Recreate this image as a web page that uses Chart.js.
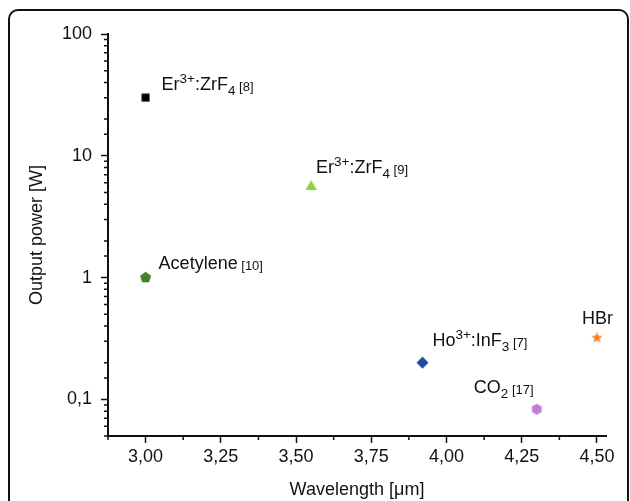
<!DOCTYPE html>
<html>
<head>
<meta charset="utf-8">
<script src="https://cdn.jsdelivr.net/npm/chart.js@4"></script>
<style>
  html, body { margin: 0; padding: 0; background: #fff; }
  #wrap { position: relative; width: 630px; height: 501px; overflow: hidden; }
  #frame {
    position: absolute; left: 8px; top: 9px; width: 621px; height: 540px;
    box-sizing: border-box; border: 2.5px solid #111; border-radius: 10px;
  }
  canvas { position: absolute; left: 0; top: 0; }
</style>
</head>
<body>
<div id="wrap">
  <div id="frame"></div>
  <canvas id="chart" width="630" height="501"></canvas>
</div>
<script>
// Data
const wavelengths = [3.00, 3.55, 3.00, 3.92, 4.30, 4.50];
const powers = [30, 5.7, 1.0, 0.2, 0.083, 0.32];
const markerShapes = ['square', 'triangle', 'pentagon', 'diamond', 'hexagon', 'star'];
const markerColors = ['#000000', '#8fd13f', '#3f8422', '#1f4aa0', '#c27bd6', '#ff7f1e'];
// label text pieces: [text, kind]
const pointLabels = [
    [['Er', 'n'], ['3+', 'sup'], [':ZrF', 'n'], ['4', 'sub'], [' [8]', 'ref']],
    [['Er', 'n'], ['3+', 'sup'], [':ZrF', 'n'], ['4', 'sub'], [' [9]', 'ref']],
    [['Acetylene', 'n'], [' [10]', 'ref']],
    [['Ho', 'n'], ['3+', 'sup'], [':InF', 'n'], ['3', 'sub'], [' [7]', 'ref']],
    [['CO', 'n'], ['2', 'sub'], [' [17]', 'ref']],
    [['HBr', 'n']]
];
// where each label sits relative to its point (px)
const labelOffsets = [[16, -8], [5, -13], [13, -9], [10, -17], [-63, -16], [-15, -14]];

const FONT = '"Liberation Sans", Arial, Helvetica, sans-serif';
const INK = '#111';

function makeMarker(shape, color) {
    const c = document.createElement('canvas');
    const s = shape === 'square' ? 9 : 13;
    c.width = s; c.height = s;
    const g = c.getContext('2d');
    const cx = s / 2, cy = s / 2;
    g.fillStyle = color;
    g.beginPath();
    if (shape === 'square') {
        g.rect(0.5, 0.5, 8, 8);
    } else if (shape === 'star') {
        for (let k = 0; k < 10; k++) {
            const r = k % 2 === 0 ? 6 : 2.5;
            const a = -Math.PI / 2 + k * Math.PI / 5;
            g.lineTo(cx + r * Math.cos(a), cy + r * Math.sin(a));
        }
    } else {
        const n = { triangle: 3, pentagon: 5, diamond: 4, hexagon: 6 }[shape];
        const r = { triangle: 6.6, pentagon: 5.8, diamond: 6, hexagon: 5.6 }[shape];
        const dy = shape === 'triangle' ? 1.2 : 0;
        for (let k = 0; k < n; k++) {
            const a = -Math.PI / 2 + k * 2 * Math.PI / n;
            g.lineTo(cx + r * Math.cos(a), cy + dy + r * Math.sin(a));
        }
    }
    g.closePath();
    g.fill();
    return c;
}

const markers = markerShapes.map((s, i) => makeMarker(s, markerColors[i]));

const isDecade = v => Math.abs(Math.log10(v) - Math.round(Math.log10(v))) < 1e-9;
const isQuarter = v => Math.abs(v * 4 - Math.round(v * 4)) < 1e-6;

// short minor ticks on both axes
const minorTicks = {
    id: 'minorTicks',
    afterDraw(chart) {
        const { ctx } = chart;
        const xs = chart.scales.x, ys = chart.scales.y;
        ctx.save();
        ctx.strokeStyle = INK;
        ctx.lineWidth = 1.5;
        ctx.beginPath();
        ys.ticks.forEach(t => {
            if (isDecade(t.value)) return;
            const y = ys.getPixelForValue(t.value);
            ctx.moveTo(xs.left - 4, y);
            ctx.lineTo(xs.left, y);
        });
        xs.ticks.forEach(t => {
            if (isQuarter(t.value)) return;
            const x = xs.getPixelForValue(t.value);
            ctx.moveTo(x, ys.bottom);
            ctx.lineTo(x, ys.bottom + 4);
        });
        ctx.stroke();
        ctx.restore();
    }
};

// rich text labels next to the points
const richLabels = {
    id: 'richLabels',
    afterDatasetsDraw(chart) {
        const { ctx } = chart;
        const pts = chart.getDatasetMeta(0).data;
        ctx.save();
        ctx.fillStyle = INK;
        ctx.textBaseline = 'alphabetic';
        ctx.textAlign = 'left';
        pointLabels.forEach((parts, i) => {
            let x = pts[i].x + labelOffsets[i][0];
            const y = pts[i].y + labelOffsets[i][1];
            parts.forEach(([txt, kind]) => {
                let size = 18, shift = 0;
                if (kind === 'sup') { size = 13.5; shift = -7; }
                if (kind === 'sub') { size = 13.5; shift = 5; }
                if (kind === 'ref') { size = 13; shift = 1; }
                ctx.font = size + 'px ' + FONT;
                ctx.fillText(txt, x, y + shift);
                x += ctx.measureText(txt).width;
            });
        });
        ctx.restore();
    }
};

new Chart(document.getElementById('chart'), {
    type: 'scatter',
    data: {
        datasets: [{
            data: wavelengths.map((w, i) => ({ x: w, y: powers[i] })),
            pointStyle: markers,
            pointRadius: 6,
            pointHoverRadius: 6
        }]
    },
    options: {
        responsive: false,
        animation: false,
        events: [],
        layout: { padding: { left: 0, top: 34, right: 24, bottom: 0 } },
        plugins: { legend: { display: false }, tooltip: { enabled: false } },
        scales: {
            x: {
                type: 'linear',
                min: 2.875,
                max: 4.53,
                afterFit: s => { s.height = 65; },
                border: { display: true, color: INK, width: 2 },
                grid: {
                    drawOnChartArea: false,
                    tickLength: 7,
                    tickWidth: 1.5,
                    tickColor: c => (c.tick && isQuarter(c.tick.value)) ? INK : 'rgba(0,0,0,0)'
                },
                ticks: {
                    stepSize: 0.125,
                    includeBounds: false,
                    autoSkip: false,
                    maxRotation: 0,
                    padding: 3,
                    color: INK,
                    font: { family: FONT, size: 18 },
                    callback: v => isQuarter(v) ? v.toFixed(2).replace('.', ',') : ''
                },
                title: {
                    display: true,
                    text: 'Wavelength [\u03bcm]',
                    color: INK,
                    font: { family: FONT, size: 18 },
                    padding: { top: 0, bottom: 0 }
                }
            },
            y: {
                type: 'logarithmic',
                min: 0.05,
                max: 100,
                afterFit: s => { s.width = 108; },
                border: { display: true, color: INK, width: 2 },
                grid: {
                    drawOnChartArea: false,
                    tickLength: 7,
                    tickWidth: 1.5,
                    tickColor: c => (c.tick && isDecade(c.tick.value)) ? INK : 'rgba(0,0,0,0)'
                },
                ticks: {
                    autoSkip: false,
                    padding: 9,
                    color: INK,
                    font: { family: FONT, size: 18 },
                    callback: v => isDecade(v) ? String(v).replace('.', ',') : ''
                },
                title: {
                    display: true,
                    text: 'Output power [W]',
                    color: INK,
                    font: { family: FONT, size: 18 },
                    padding: { top: 26, bottom: 0 }
                }
            }
        }
    },
    plugins: [minorTicks, richLabels]
});
</script>
</body>
</html>
